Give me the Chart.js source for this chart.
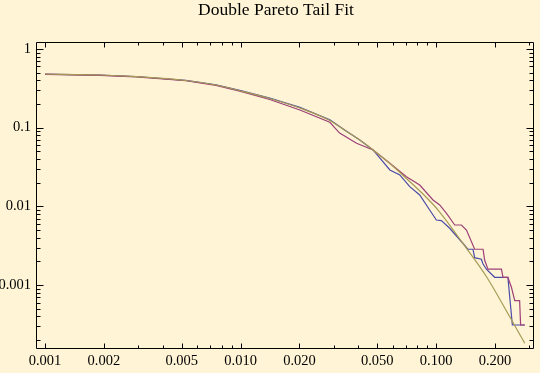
<!DOCTYPE html>
<html>
<head>
<meta charset="utf-8">
<script src="https://cdn.jsdelivr.net/npm/chart.js@4/dist/chart.umd.min.js"></script>
<style>
  html, body { margin: 0; padding: 0; background: #FFF5D6; }
  canvas { display: block; }
</style>
</head>
<body>
<canvas id="chart1" width="540" height="373"></canvas>
<script>
// values
var titleText = 'Double Pareto Tail Fit'

var fitX = [0.001, 0.00191, 0.00292, 0.00525, 0.00748, 0.0099, 0.0141, 0.0201, 0.0286, 0.0342, 0.0407, 0.0476, 0.0580, 0.0705, 0.0857, 0.1043, 0.137, 0.181, 0.238, 0.284]
var fitY = [0.481, 0.467, 0.445, 0.398, 0.3485, 0.295, 0.235, 0.178, 0.1233, 0.092, 0.0697, 0.0521, 0.0350, 0.0226, 0.01435, 0.00848, 0.00339, 0.001276, 0.000395, 0.000182]

var blueX = [0.001, 0.00191, 0.00292, 0.00525, 0.00748, 0.0099, 0.0141, 0.0201, 0.0286, 0.0342, 0.0407, 0.0476, 0.0580, 0.0652, 0.0733, 0.0824, 0.0927, 0.1003, 0.1064, 0.1173, 0.137, 0.1456, 0.1544, 0.1574, 0.1703, 0.1738, 0.1807, 0.1992, 0.2328, 0.2454, 0.284]
var blueY = [0.478, 0.465, 0.447, 0.400, 0.351, 0.298, 0.238, 0.181, 0.126, 0.093, 0.0697, 0.0521, 0.0290, 0.0251, 0.0178, 0.01396, 0.0090, 0.00671, 0.00658, 0.00527, 0.0034, 0.00285, 0.00285, 0.00223, 0.00213, 0.00185, 0.00159, 0.001256, 0.001256, 0.000311, 0.000311]

var purpleX = [0.001, 0.00191, 0.00292, 0.00525, 0.00748, 0.0099, 0.0141, 0.0201, 0.0286, 0.0321, 0.0392, 0.0476, 0.0580, 0.0705, 0.0824, 0.0964, 0.1043, 0.1130, 0.1245, 0.1346, 0.1429, 0.1574, 0.1738, 0.1770, 0.1841, 0.2158, 0.2198, 0.2328, 0.2427, 0.2524, 0.2673, 0.2704, 0.284]
var purpleY = [0.476, 0.462, 0.443, 0.395, 0.345, 0.292, 0.228, 0.168, 0.117, 0.0855, 0.0633, 0.0521, 0.0353, 0.0238, 0.0187, 0.01206, 0.01042, 0.00817, 0.00580, 0.00580, 0.00501, 0.00285, 0.00285, 0.00208, 0.00159, 0.00159, 0.001256, 0.001256, 0.000937, 0.000634, 0.000634, 0.000311, 0.000311]

var xTickValues = [0.001, 0.002, 0.005, 0.01, 0.02, 0.05, 0.1, 0.2]
var xTickLabels = ['0.001', '0.002', '0.005', '0.010', '0.020', '0.050', '0.100', '0.200']
var xMinorTicks = [0.003, 0.004, 0.006, 0.007, 0.008, 0.009, 0.03, 0.04, 0.06, 0.07, 0.08, 0.09, 0.3]

var yTickValues = [1, 0.1, 0.01, 0.001]
var yTickLabels = ['1', '0.1', '0.01', '0.001']
var yMinorTicks = []
for (var d = -4; d <= -1; d++) {
  for (var m = 2; m <= 9; m++) {
    yMinorTicks.push(m * Math.pow(10, d))
  }
}

function toPoints(xs, ys){
  var pts = []
  for (var i = 0; i < xs.length; i++){
    pts.push({x: xs[i], y: ys[i]})
  }
  return pts
}

var frameAndTicks = {
  id: 'frameAndTicks',
  beforeDraw: function(chart){
    var c = chart.ctx
    c.save()
    c.fillStyle = '#FFF5D6'
    c.fillRect(0, 0, chart.width, chart.height)
    c.restore()
  },
  afterDraw: function(chart){
    var c = chart.ctx
    var a = chart.chartArea
    var xs = chart.scales.x
    var ys = chart.scales.y
    var L = Math.round(a.left) + 0.5, R = Math.round(a.right) - 0.5
    var T = Math.round(a.top) + 0.5, B = Math.round(a.bottom) - 0.5
    c.save()
    c.strokeStyle = '#000'
    c.lineWidth = 1
    c.beginPath()
    c.rect(L, T, R - L, B - T)
    // ticks on all four sides, pointing inward
    function xTick(v, len){
      var p = Math.round(xs.getPixelForValue(v)) + 0.5
      if (p < L || p > R) return
      c.moveTo(p, B); c.lineTo(p, B - len)
      c.moveTo(p, T); c.lineTo(p, T + len)
    }
    function yTick(v, len){
      var p = Math.round(ys.getPixelForValue(v)) + 0.5
      if (p < T || p > B) return
      c.moveTo(L, p); c.lineTo(L + len, p)
      c.moveTo(R, p); c.lineTo(R - len, p)
    }
    xTickValues.forEach(function(v){ xTick(v, 5) })
    xMinorTicks.forEach(function(v){ xTick(v, 3) })
    yTickValues.forEach(function(v){ yTick(v, 7) })
    yMinorTicks.forEach(function(v){ yTick(v, 4) })
    c.stroke()

    c.fillStyle = '#000'
    c.font = '17.5px "Liberation Serif"'
    c.textAlign = 'center'
    c.textBaseline = 'middle'
    c.fillText(titleText, 276, 10.5)
    c.restore()
  }
}

function tailChart(){
  const ctx = document.getElementById('chart1');
  new Chart(ctx, {
    type: 'scatter',
    data: {
      datasets: [{
        data: toPoints(blueX, blueY),
        showLine: true,
        borderColor: '#4a4aa8',
        borderWidth: 1.2,
        pointRadius: 0,
        order: 3
      }, {
        data: toPoints(purpleX, purpleY),
        showLine: true,
        borderColor: '#9e3f78',
        borderWidth: 1.2,
        pointRadius: 0,
        order: 2
      }, {
        data: toPoints(fitX, fitY),
        showLine: true,
        borderColor: '#a69a55',
        borderWidth: 1.2,
        pointRadius: 0,
        cubicInterpolationMode: 'monotone',
        order: 1
      }]
    },
    options: {
      responsive: false,
      animation: false,
      layout: {padding: {top: 42, right: 6, left: 0, bottom: 0}},
      plugins: {
        legend: {display: false},
        tooltip: {enabled: false},
        title: {display: false}
      },
      scales: {
        x: {
          type: 'logarithmic',
          min: 0.000899,
          max: 0.3166,
          grid: {display: false, drawTicks: false},
          border: {display: false},
          afterBuildTicks: function(s){ s.ticks = xTickValues.map(function(v){ return {value: v} }) },
          afterFit: function(s){ s.height = 24 },
          ticks: {
            autoSkip: false,
            maxRotation: 0,
            padding: 3,
            color: '#000',
            font: {family: 'Liberation Serif', size: 14.5},
            callback: function(v, i){ return xTickLabels[i] }
          }
        },
        y: {
          type: 'logarithmic',
          min: 0.000154,
          max: 1.227,
          grid: {display: false, drawTicks: false},
          border: {display: false},
          afterBuildTicks: function(s){ s.ticks = yTickValues.map(function(v){ return {value: v} }) },
          afterFit: function(s){ s.width = 36 },
          ticks: {
            autoSkip: false,
            padding: 5,
            color: '#000',
            font: {family: 'Liberation Serif', size: 14.5},
            callback: function(v, i){ return yTickLabels[i] }
          }
        }
      }
    },
    plugins: [frameAndTicks]
  });
}

tailChart()
</script>
</body>
</html>
